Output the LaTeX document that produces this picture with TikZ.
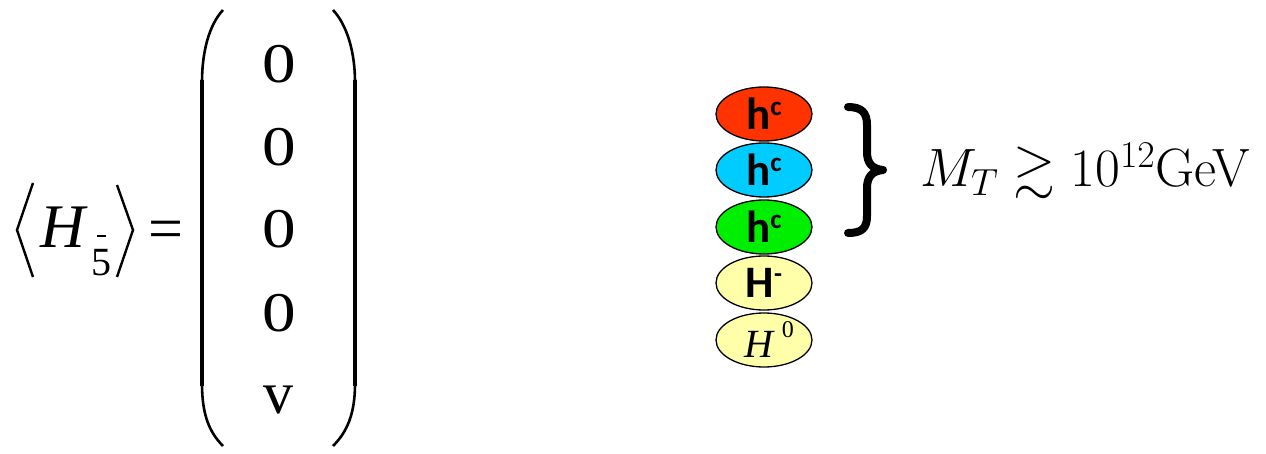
\RequirePackage{fix-cm}
\documentclass[tikz,border=0pt]{standalone}
\usepackage{amssymb}
\usepackage{fontspec}
\usetikzlibrary{shapes.geometric}
\newfontfamily\tms{Liberation Serif}
\newfontfamily\calib{Carlito}
\definecolor{hred}{HTML}{FF3300}
\definecolor{hblue}{HTML}{00CCFF}
\definecolor{hgreen}{HTML}{00EE00}
\definecolor{hyellow}{HTML}{FFFFAA}
\tikzset{
  txt/.style={inner sep=0pt, outer sep=0pt},
  entry/.style={txt, anchor=base, font=\tms\fontsize{56}{60}\selectfont},
  delim/.style={line width=2.4pt, line join=miter},
  parenarc/.style={line width=2.6pt},
  parenbar/.style={line width=4.6pt},
  higgs/.style={ellipse, draw, line width=1.3pt, minimum width=96pt, minimum height=54pt, inner sep=0pt},
  hc/.style={higgs, font=\calib\bfseries\fontsize{45}{47}\selectfont},
}
\newcommand{\colsup}{\raisebox{14pt}{\fontsize{27}{27}\selectfont c}}
\newcommand{\wzero}{\scalebox{1.2}[1]{0}}
\begin{document}
\begin{tikzpicture}[x=1pt, y=-1pt]
\useasboundingbox (0,0) rectangle (1266,454);

% vacuum expectation value  < H_5bar > =
\draw[delim] (33,183) -- (17,230) -- (33,277);
\node[txt, anchor=base west, font=\tms\itshape\fontsize{62}{64}\selectfont] (H) at (40,248) {H};
\node[txt, anchor=base, font=\tms\fontsize{40}{42}\selectfont] (five) at (101,276) {5};
\draw[line width=2pt] (97,236) -- (106,236);
\draw[delim] (117,185) -- (133,230) -- (117,277);
\node[txt, anchor=base, font=\tms\fontsize{62}{64}\selectfont] (eq) at (166,250) {=};

% column vector
\draw[parenarc] (223,10) .. controls (209,25) and (202,52) .. (202,82);
\draw[parenbar] (202,80) -- (202,386);
\draw[parenarc] (202,384) .. controls (202,414) and (209,432) .. (223,446);
\draw[parenarc] (333,10) .. controls (347,25) and (355,52) .. (355,82);
\draw[parenbar] (355,80) -- (355,386);
\draw[parenarc] (355,384) .. controls (355,414) and (347,432) .. (333,446);

\node[entry] (e1) at (279,83) {\wzero};
\node[entry] (e2) at (279,166) {\wzero};
\node[entry] (e3) at (279,248) {\wzero};
\node[entry] (e4) at (279,331) {\wzero};
\node[entry, font=\tms\fontsize{60}{62}\selectfont] (e5) at (278,413) {v};

% Higgs multiplet components
\node[hc, fill=hred] (r) at (764,114) {h\colsup};
\node[hc, fill=hblue] (b) at (764,170) {h\colsup};
\node[hc, fill=hgreen] (g) at (764,227) {h\colsup};
\node[hc, fill=hyellow] (hm) at (764,283) {H\raisebox{15pt}{\fontsize{26}{26}\selectfont -}};
\node[higgs, fill=hyellow, font=\tms\fontsize{40}{42}\selectfont] (h0) at (764,340) {\hspace{10pt}\textit{H}\hspace{7pt}\raisebox{20pt}{\fontsize{24}{24}\selectfont 0}};

% brace over the coloured triplet
\draw[line width=8pt, line cap=round, line join=round]
  (848,107) .. controls (862,107) and (867,113) .. (867,125)
  -- (867,152) .. controls (867,163) and (872,169) .. (883,170)
  .. controls (872,171) and (867,177) .. (867,188)
  -- (867,216) .. controls (867,228) and (862,233) .. (848,233);

\node[txt, anchor=base west, font=\fontsize{54}{60}\selectfont] (mt) at (920,187) {$M_T \gtrsim 10^{12}$GeV};
\end{tikzpicture}
\end{document}
